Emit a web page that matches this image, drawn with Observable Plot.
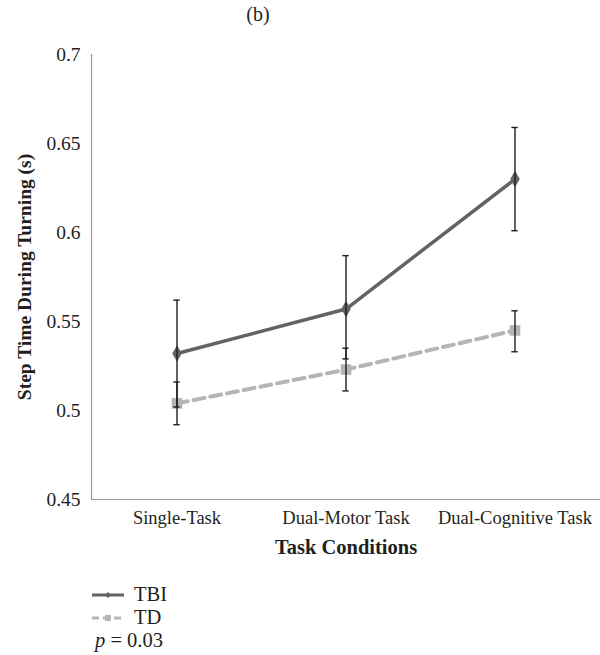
<!DOCTYPE html>
<html>
<head>
<meta charset="utf-8">
<script src="https://cdn.jsdelivr.net/npm/d3@7"></script>
<script src="https://cdn.jsdelivr.net/npm/@observablehq/plot@0.6"></script>
<style>
  html, body { margin: 0; padding: 0; background: #fff; }
  body { width: 600px; height: 655px; position: relative; overflow: hidden; color: #231f20; }
  body, div, span, i { font-family: "Liberation Serif", "DejaVu Serif", serif; }
  #chart { position: absolute; left: 0; top: 0; }
  #title { position: absolute; top: 3px; left: 0; width: 516px; text-align: center; font-size: 20px; }
  #legend { position: absolute; left: 92px; top: 583px; font-size: 20.5px; line-height: 23px; }
  #legend .row { display: flex; align-items: center; height: 23px; }
  #legend svg { margin-right: 10px; }
</style>
</head>
<body>
<div id="title">(b)</div>
<div id="chart"></div>
<div id="legend"></div>
<script>
const categories = ["Single-Task", "Dual-Motor Task", "Dual-Cognitive Task"];
const tbiMean = [0.532, 0.557, 0.630];
const tbiLow  = [0.502, 0.529, 0.601];
const tbiHigh = [0.562, 0.587, 0.659];
const tdMean  = [0.504, 0.523, 0.545];
const tdLow   = [0.492, 0.511, 0.533];
const tdHigh  = [0.516, 0.535, 0.556];
const yTicks = [0.45, 0.5, 0.55, 0.6, 0.65, 0.7];
const seriesNames = ["TBI", "TD"];
const pText = "0.03";

const tbiColor = "#636363";
const tdColor = "#b5b5b5";
const font = '"Liberation Serif", "DejaVu Serif", serif';

const tbi = categories.map((c, i) => ({cat: c, mean: tbiMean[i], low: tbiLow[i], high: tbiHigh[i]}));
const td = categories.map((c, i) => ({cat: c, mean: tdMean[i], low: tdLow[i], high: tdHigh[i]}));
const all = tbi.concat(td);

const W = 600, H = 560, mL = 91, mR = 0, mT = 54, mB = 61;
const band = (W - mL - mR) / categories.length;
const capInset = (band - 7) / 2;

const chart = Plot.plot({
  width: W, height: H,
  marginLeft: mL, marginRight: mR, marginTop: mT, marginBottom: mB,
  style: {fontFamily: font, color: "#231f20", background: "transparent"},
  x: {type: "band", domain: categories, padding: 0, label: null},
  y: {domain: [0.45, 0.7], ticks: yTicks, label: null},
  marks: [
    Plot.axisY({ticks: yTicks, tickSize: 0, tickPadding: 11, fontSize: 19.5, label: null,
                tickFormat: d => String(+d.toFixed(2))}),
    Plot.axisX({tickSize: 0, tickPadding: 11, fontSize: 18.5, label: null}),
    Plot.frame({anchor: "left", stroke: "#9a9a9a", strokeWidth: 1.2}),
    Plot.frame({anchor: "bottom", stroke: "#9a9a9a", strokeWidth: 1.2}),
    Plot.line(td, {x: "cat", y: "mean", stroke: tdColor, strokeWidth: 4, strokeDasharray: "11,6"}),
    Plot.line(tbi, {x: "cat", y: "mean", stroke: tbiColor, strokeWidth: 3.5}),
    Plot.dot(td, {x: "cat", y: "mean", symbol: "square", r: 6, fill: tdColor, stroke: "none"}),
    Plot.dot(tbi, {x: "cat", y: "mean", symbol: "diamond", r: 5, fill: tbiColor, stroke: "none"}),
    Plot.ruleX(all, {x: "cat", y1: "low", y2: "high", stroke: "#1e1e1e", strokeWidth: 1.4}),
    Plot.tickY(all, {x: "cat", y: "low", insetLeft: capInset, insetRight: capInset, stroke: "#1e1e1e", strokeWidth: 1.4}),
    Plot.tickY(all, {x: "cat", y: "high", insetLeft: capInset, insetRight: capInset, stroke: "#1e1e1e", strokeWidth: 1.4}),
    Plot.text(["Step Time During Turning (s)"], {frameAnchor: "left", textAnchor: "middle", rotate: -90, dx: -67,
              fontSize: 19.5, fontWeight: "bold", fill: "#231f20"}),
    Plot.text(["Task Conditions"], {frameAnchor: "bottom", textAnchor: "middle", dy: 54, fontSize: 20.5, fontWeight: "bold", fill: "#231f20"})
  ]
});
document.getElementById("chart").appendChild(chart);

// Legend
const legend = document.getElementById("legend");
function swatch(color, dashed, symbol) {
  const ns = "http://www.w3.org/2000/svg";
  const s = document.createElementNS(ns, "svg");
  s.setAttribute("width", 32); s.setAttribute("height", 14);
  const l = document.createElementNS(ns, "line");
  l.setAttribute("x1", 0); l.setAttribute("x2", 32); l.setAttribute("y1", 7); l.setAttribute("y2", 7);
  l.setAttribute("stroke", color); l.setAttribute("stroke-width", 3);
  if (dashed) l.setAttribute("stroke-dasharray", "7,4");
  s.appendChild(l);
  if (symbol === "diamond") {
    const p = document.createElementNS(ns, "path");
    p.setAttribute("d", "M16,4L19,7L16,10L13,7Z"); p.setAttribute("fill", color);
    s.appendChild(p);
  } else {
    const r = document.createElementNS(ns, "rect");
    r.setAttribute("x", 13); r.setAttribute("y", 4); r.setAttribute("width", 6); r.setAttribute("height", 6);
    r.setAttribute("fill", color);
    s.appendChild(r);
  }
  return s;
}
[[seriesNames[0], tbiColor, false, "diamond"], [seriesNames[1], tdColor, true, "square"]].forEach(([name, c, d, sym]) => {
  const row = document.createElement("div"); row.className = "row";
  row.appendChild(swatch(c, d, sym));
  const t = document.createElement("span"); t.textContent = name;
  row.appendChild(t);
  legend.appendChild(row);
});
const prow = document.createElement("div"); prow.className = "row";
prow.style.marginLeft = "3px";
prow.innerHTML = "<i>p</i>&nbsp;= " + pText;
legend.appendChild(prow);
</script>
</body>
</html>
